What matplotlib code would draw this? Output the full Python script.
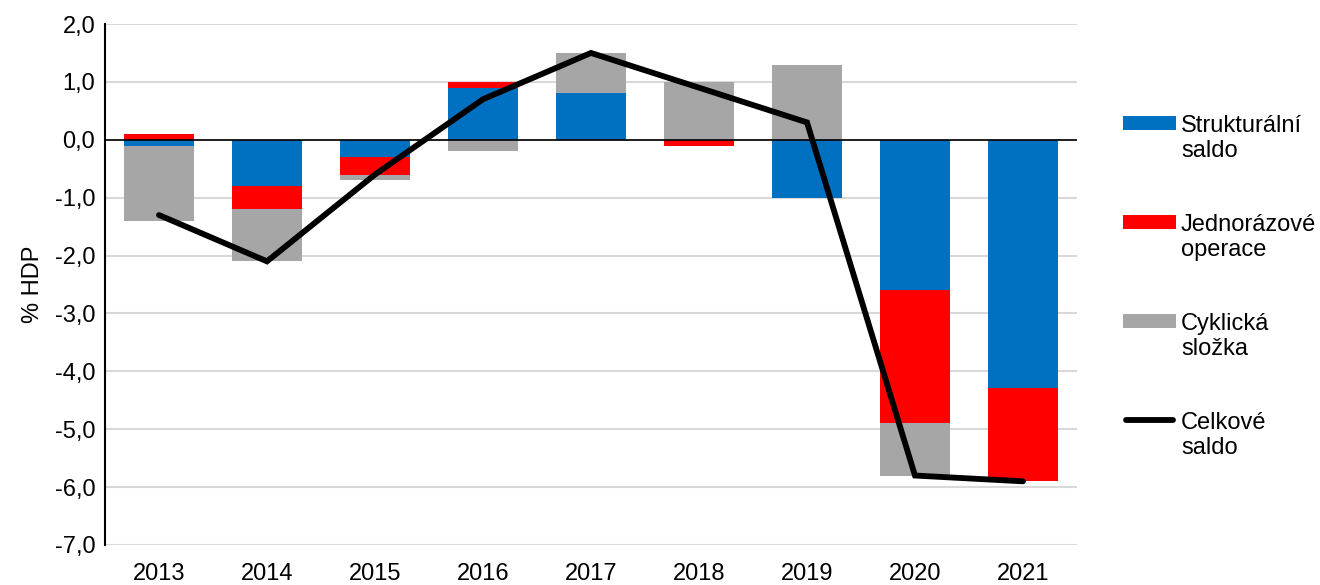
import matplotlib
matplotlib.use("Agg")
import matplotlib.pyplot as plt
from matplotlib.patches import Rectangle
from matplotlib.lines import Line2D
import numpy as np

plt.rcParams['font.family'] = ['Liberation Sans', 'DejaVu Sans']

years = ['2013', '2014', '2015', '2016', '2017', '2018', '2019', '2020', '2021']
strukturalni = [-0.1, -0.8, -0.3, 0.9, 0.8, 0.0, -1.0, -2.6, -4.28]
jednorazove = [0.1, -0.4, -0.3, 0.1, 0.0, -0.1, 0.0, -2.3, -1.62]
cyklicka = [-1.3, -0.9, -0.1, -0.2, 0.7, 1.0, 1.3, -0.9, 0.0]
celkove = [-1.3, -2.1, -0.6, 0.7, 1.5, 0.9, 0.3, -5.8, -5.9]

series = [
    ('Strukturální\nsaldo', strukturalni, '#0070c0'),
    ('Jednorázové\noperace', jednorazove, '#ff0000'),
    ('Cyklická\nsložka', cyklicka, '#a6a6a6'),
]
line_label = 'Celkové\nsaldo'

W, H = 1320, 585
fig = plt.figure(figsize=(W / 100, H / 100), dpi=100)
ax = fig.add_axes([105 / W, 1 - 545 / H, 972 / W, 521 / H])  # llx, lly, w, h

x = np.arange(len(years))
pos_bottom = np.zeros(len(years))
neg_bottom = np.zeros(len(years))
for label, vals, color in series:
    vals = np.array(vals)
    bottom = np.where(vals >= 0, pos_bottom, neg_bottom)
    ax.bar(x, vals, 0.65, bottom=bottom, color=color, zorder=2)
    pos_bottom += np.where(vals > 0, vals, 0)
    neg_bottom += np.where(vals < 0, vals, 0)

ax.plot(x, celkove, color='black', lw=4.2, solid_capstyle='round',
        solid_joinstyle='miter', zorder=3)

ax.axhline(0, color='black', lw=1.2, zorder=2.5)
ax.set_ylim(-7, 2)
ax.set_xlim(-0.5, len(years) - 0.5)
yt = np.arange(-7, 2.1, 1)
ax.set_yticks(yt)
ax.set_yticklabels([f'{v:.1f}'.replace('.', ',') for v in yt])
ax.set_xticks(x)
ax.set_xticklabels(years)
ax.tick_params(axis='both', labelsize=17, length=0)
ax.tick_params(axis='y', pad=7)
ax.tick_params(axis='x', pad=13)
ax.grid(axis='y', color='#d9d9d9', lw=1.5, zorder=0)
for s in ['top', 'right', 'bottom']:
    ax.spines[s].set_visible(False)
ax.spines['left'].set_linewidth(1.5)
ax.set_ylabel('% HDP', fontsize=17, labelpad=8)

# legend drawn by hand: handle next to the first line of each label
hx0, hx1, tx = 1123, 1176, 1181
row_top = 115
row_step = 99
labels = [s[0] for s in series] + [line_label]
for i, label in enumerate(labels):
    y_top = row_top + i * row_step
    y_first = y_top + 8
    if i < len(series):
        fig.add_artist(Rectangle((hx0 / W, 1 - (y_first + 7) / H),
                                 (hx1 - hx0) / W, 14 / H,
                                 transform=fig.transFigure,
                                 facecolor=series[i][2], edgecolor='none'))
    else:
        fig.add_artist(Line2D([(hx0 + 3) / W, (hx1 - 3) / W],
                              [1 - y_first / H, 1 - y_first / H],
                              transform=fig.transFigure, color='black',
                              lw=4.2, solid_capstyle='round'))
    fig.text(tx / W, 1 - y_top / H, label, fontsize=17, va='top', ha='left',
             linespacing=1.15)

fig.savefig('out.png', dpi=100)
